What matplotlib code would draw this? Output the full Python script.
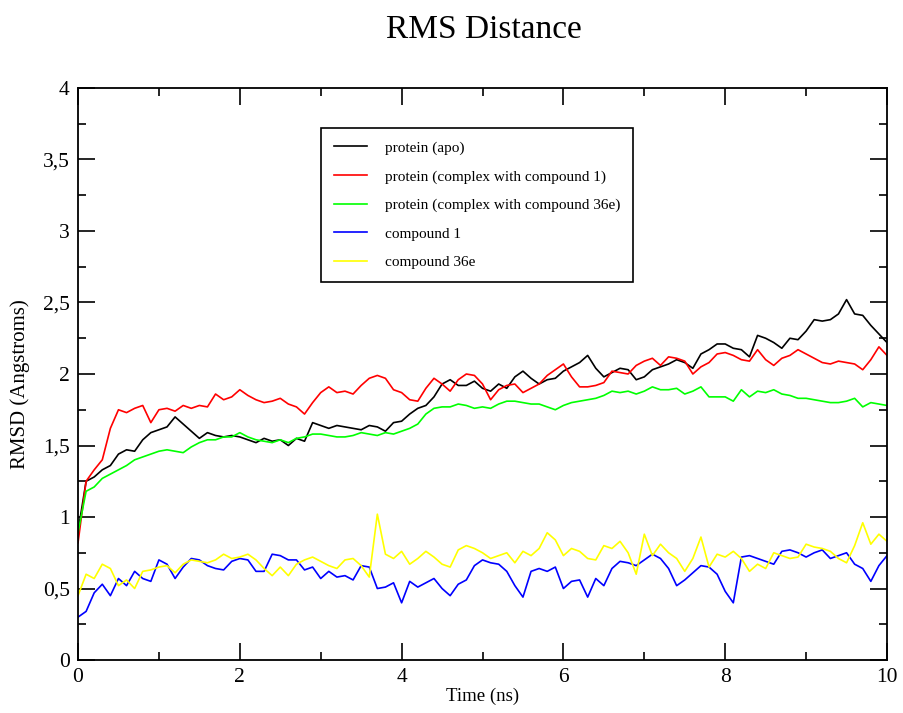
import numpy as np
import matplotlib
matplotlib.use("Agg")
import matplotlib.pyplot as plt
from matplotlib.ticker import MultipleLocator, FuncFormatter

plt.rcParams['font.family'] = ['Liberation Serif', 'DejaVu Serif']

# time axis, ns
time_ns = np.round(np.arange(0, 10.01, 0.1), 2)

apo = [0.90, 1.25, 1.28, 1.33, 1.36, 1.44, 1.47, 1.46, 1.54, 1.59,
       1.61, 1.63, 1.70, 1.65, 1.60, 1.55, 1.59, 1.57, 1.56, 1.57,
       1.56, 1.54, 1.52, 1.55, 1.53, 1.54, 1.50, 1.55, 1.53, 1.66,
       1.64, 1.62, 1.64, 1.63, 1.62, 1.61, 1.64, 1.63, 1.60, 1.66,
       1.67, 1.72, 1.76, 1.78, 1.84, 1.93, 1.96, 1.92, 1.92, 1.95,
       1.90, 1.88, 1.93, 1.90, 1.98, 2.02, 1.97, 1.93, 1.96, 1.97,
       2.02, 2.05, 2.08, 2.13, 2.04, 1.98, 2.01, 2.04, 2.03, 1.96,
       1.98, 2.03, 2.05, 2.07, 2.10, 2.08, 2.04, 2.14, 2.17, 2.21,
       2.21, 2.18, 2.17, 2.12, 2.27, 2.25, 2.22, 2.18, 2.25, 2.24,
       2.30, 2.38, 2.37, 2.38, 2.42, 2.52, 2.42, 2.41, 2.34, 2.28,
       2.22]

complex_c1 = [0.82, 1.25, 1.33, 1.40, 1.62, 1.75, 1.73, 1.76, 1.78, 1.66,
              1.75, 1.76, 1.74, 1.78, 1.76, 1.78, 1.77, 1.86, 1.82, 1.84,
              1.89, 1.85, 1.82, 1.80, 1.81, 1.83, 1.79, 1.77, 1.72, 1.80,
              1.87, 1.91, 1.87, 1.88, 1.86, 1.92, 1.97, 1.99, 1.97, 1.89,
              1.87, 1.82, 1.81, 1.90, 1.97, 1.93, 1.88, 1.96, 2.00, 1.99,
              1.93, 1.82, 1.89, 1.92, 1.93, 1.87, 1.90, 1.93, 1.99, 2.03,
              2.07, 1.98, 1.91, 1.91, 1.92, 1.94, 2.02, 2.01, 2.00, 2.06,
              2.09, 2.11, 2.06, 2.12, 2.11, 2.09, 2.00, 2.05, 2.08, 2.14,
              2.15, 2.13, 2.10, 2.09, 2.17, 2.10, 2.06, 2.11, 2.13, 2.17,
              2.14, 2.11, 2.08, 2.07, 2.09, 2.08, 2.07, 2.03, 2.10, 2.19,
              2.13]

complex_c36e = [0.89, 1.18, 1.21, 1.27, 1.30, 1.33, 1.36, 1.40, 1.42, 1.44,
                1.46, 1.47, 1.46, 1.45, 1.49, 1.52, 1.54, 1.54, 1.56, 1.56,
                1.59, 1.56, 1.54, 1.53, 1.52, 1.54, 1.52, 1.55, 1.56, 1.58,
                1.58, 1.57, 1.56, 1.56, 1.57, 1.59, 1.58, 1.57, 1.59, 1.58,
                1.60, 1.62, 1.65, 1.72, 1.76, 1.77, 1.77, 1.79, 1.78, 1.76,
                1.77, 1.76, 1.79, 1.81, 1.81, 1.80, 1.79, 1.79, 1.77, 1.75,
                1.78, 1.80, 1.81, 1.82, 1.83, 1.85, 1.88, 1.87, 1.88, 1.86,
                1.88, 1.91, 1.89, 1.89, 1.90, 1.86, 1.88, 1.91, 1.84, 1.84,
                1.84, 1.81, 1.89, 1.84, 1.88, 1.87, 1.89, 1.86, 1.85, 1.83,
                1.83, 1.82, 1.81, 1.80, 1.80, 1.81, 1.83, 1.77, 1.80, 1.79,
                1.78]

compound_1 = [0.30, 0.34, 0.47, 0.53, 0.45, 0.57, 0.52, 0.62, 0.57, 0.55,
              0.70, 0.67, 0.57, 0.65, 0.71, 0.70, 0.66, 0.64, 0.63, 0.69,
              0.71, 0.70, 0.62, 0.62, 0.74, 0.73, 0.70, 0.70, 0.63, 0.65,
              0.57, 0.62, 0.58, 0.59, 0.56, 0.66, 0.65, 0.50, 0.51, 0.54,
              0.40, 0.55, 0.51, 0.54, 0.57, 0.50, 0.45, 0.53, 0.56, 0.66,
              0.70, 0.68, 0.67, 0.62, 0.52, 0.44, 0.62, 0.64, 0.62, 0.65,
              0.50, 0.55, 0.56, 0.44, 0.57, 0.52, 0.64, 0.69, 0.68, 0.66,
              0.70, 0.74, 0.71, 0.64, 0.52, 0.56, 0.61, 0.66, 0.65, 0.60,
              0.48, 0.40, 0.72, 0.73, 0.71, 0.69, 0.67, 0.76, 0.77, 0.75,
              0.72, 0.75, 0.77, 0.71, 0.73, 0.75, 0.67, 0.64, 0.55, 0.66,
              0.73]

compound_36e = [0.45, 0.60, 0.57, 0.67, 0.64, 0.52, 0.56, 0.50, 0.62, 0.63,
                0.65, 0.66, 0.61, 0.67, 0.70, 0.69, 0.68, 0.70, 0.74, 0.71,
                0.72, 0.74, 0.70, 0.64, 0.59, 0.65, 0.59, 0.67, 0.70, 0.72,
                0.69, 0.66, 0.64, 0.70, 0.71, 0.66, 0.58, 1.02, 0.74, 0.71,
                0.76, 0.67, 0.71, 0.76, 0.72, 0.67, 0.65, 0.77, 0.80, 0.78,
                0.75, 0.71, 0.73, 0.75, 0.68, 0.76, 0.73, 0.78, 0.89, 0.84,
                0.73, 0.78, 0.76, 0.71, 0.70, 0.80, 0.78, 0.83, 0.75, 0.60,
                0.88, 0.73, 0.81, 0.75, 0.71, 0.62, 0.71, 0.86, 0.65, 0.74,
                0.72, 0.76, 0.71, 0.62, 0.67, 0.64, 0.75, 0.73, 0.71, 0.72,
                0.81, 0.79, 0.78, 0.76, 0.71, 0.68, 0.80, 0.96, 0.81, 0.88,
                0.83]

series = [
    ("protein (apo)", apo, "#000000"),
    ("protein (complex with compound 1)", complex_c1, "#ff0000"),
    ("protein (complex with compound 36e)", complex_c36e, "#00ff00"),
    ("compound 1", compound_1, "#0000ff"),
    ("compound 36e", compound_36e, "#ffff00"),
]

fig = plt.figure(figsize=(9.04, 7.13), dpi=100)
ax = fig.add_axes([0.0863, 0.0743, 0.8949, 0.8023])

for label, vals, col in series:
    ax.plot(time_ns, vals, color=col, lw=1.2, label=label)

ax.set_xlim(0, 10)
ax.set_ylim(0, 4)
ax.xaxis.set_major_locator(MultipleLocator(2))
ax.xaxis.set_minor_locator(MultipleLocator(1))
ax.yaxis.set_major_locator(MultipleLocator(0.5))
ax.yaxis.set_minor_locator(MultipleLocator(0.25))

comma = FuncFormatter(lambda v, p: ("%g" % v).replace(".", ","))
ax.xaxis.set_major_formatter(comma)
ax.yaxis.set_major_formatter(comma)

ax.tick_params(which="both", direction="in", top=True, right=True, width=1.2)
ax.tick_params(which="major", length=12, labelsize=15.5, pad=6)
ax.tick_params(which="minor", length=6)
for sp in ax.spines.values():
    sp.set_linewidth(1.3)

ax.set_xlabel("Time (ns)", fontsize=13.5, labelpad=0)
ax.set_ylabel("RMSD (Angstroms)", fontsize=15)
ax.yaxis.set_label_coords(-0.059, 0.4825)
fig.text(0.535, 0.958, "RMS Distance", ha="center", va="center", fontsize=24)

leg = ax.legend(loc="upper left", bbox_to_anchor=(0.300, 0.930), borderaxespad=0,
                fancybox=False, framealpha=1, edgecolor="black", fontsize=11,
                handlelength=2.2, handletextpad=1.15, labelspacing=0.97, borderpad=0.85)
leg.get_frame().set_linewidth(1.2)

fig.savefig("out.png", dpi=100)
